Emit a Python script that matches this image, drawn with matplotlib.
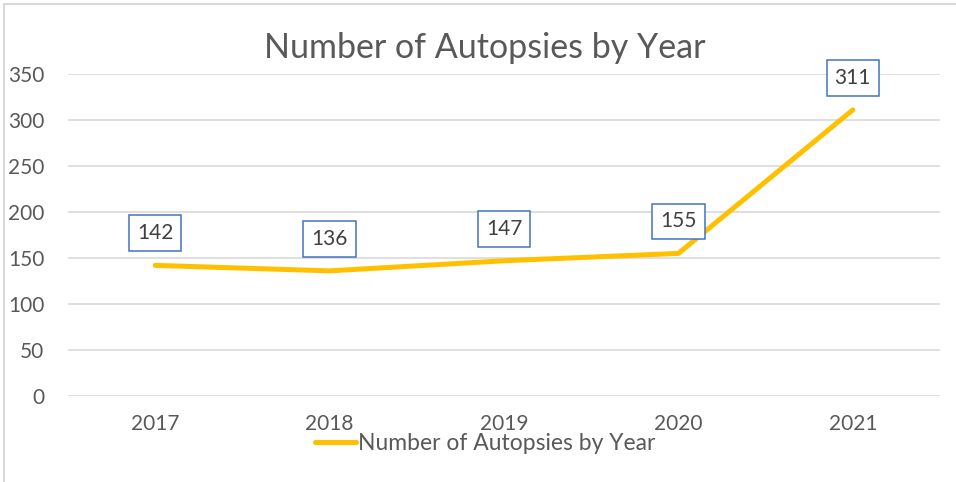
import matplotlib.pyplot as plt
from matplotlib.lines import Line2D

YEARS = ["2017", "2018", "2019", "2020", "2021"]
AUTOPSIES = [142, 136, 147, 155, 311]
Y_TICKS = [0, 50, 100, 150, 200, 250, 300, 350]
TITLE = "Number of Autopsies by Year"

TEXT = "#595959"
GRID = "#D9D9D9"
LINE = "#FFC000"
BOX = "#4472C4"

plt.rcParams["font.family"] = ["Lato", "DejaVu Sans"]

W, H = 956, 482
fig = plt.figure(figsize=(W / 100, H / 100), dpi=100)
ax = fig.add_axes([68 / W, 1 - 396 / H, (940 - 68) / W, (396 - 74) / H])

x = list(range(len(YEARS)))
ax.plot(x, AUTOPSIES, color=LINE, linewidth=3.6, solid_capstyle="round",
        solid_joinstyle="round", zorder=3)

ax.set_xlim(-0.5, len(YEARS) - 0.5)
ax.set_ylim(0, 350)
ax.set_yticks(Y_TICKS)
ax.set_xticks(x, YEARS)
ax.grid(axis="y", color=GRID, linewidth=1.2)
ax.set_axisbelow(True)
for s in ax.spines.values():
    s.set_visible(False)
ax.tick_params(length=0, labelsize=15, labelcolor=TEXT)
ax.tick_params(axis="y", pad=17)
ax.tick_params(axis="x", pad=13)

for xi, v in zip(x, AUTOPSIES):
    ax.annotate(str(v), (xi, v), xytext=(0, 23), textcoords="offset points",
                ha="center", va="center", fontsize=15, color="#404040",
                bbox=dict(boxstyle="square,pad=0.38", fc="white", ec=BOX, lw=1.1),
                zorder=4)

fig.text(485 / W, 1 - 48 / H, TITLE, ha="center", va="center", fontsize=24.5,
         color=TEXT)

# legend below the axis, overlapping the tick-label band like the original
handle = Line2D([], [], color=LINE, linewidth=3.6, solid_capstyle="round")
fig.legend([handle], [TITLE], loc="center", bbox_to_anchor=(485 / W, 1 - 444 / H),
           frameon=False, fontsize=16.5, labelcolor=TEXT, handlelength=1.8,
           handletextpad=0.1, borderpad=0)

# chart border (left and top edges visible in the crop)
fig.add_artist(Line2D([4 / W, 4 / W], [0, 1 - 4 / H], color=GRID, lw=1.5,
                      transform=fig.transFigure))
fig.add_artist(Line2D([4 / W, 1], [1 - 4 / H, 1 - 4 / H], color=GRID, lw=1.5,
                      transform=fig.transFigure))

fig.savefig("out.png", dpi=100)
